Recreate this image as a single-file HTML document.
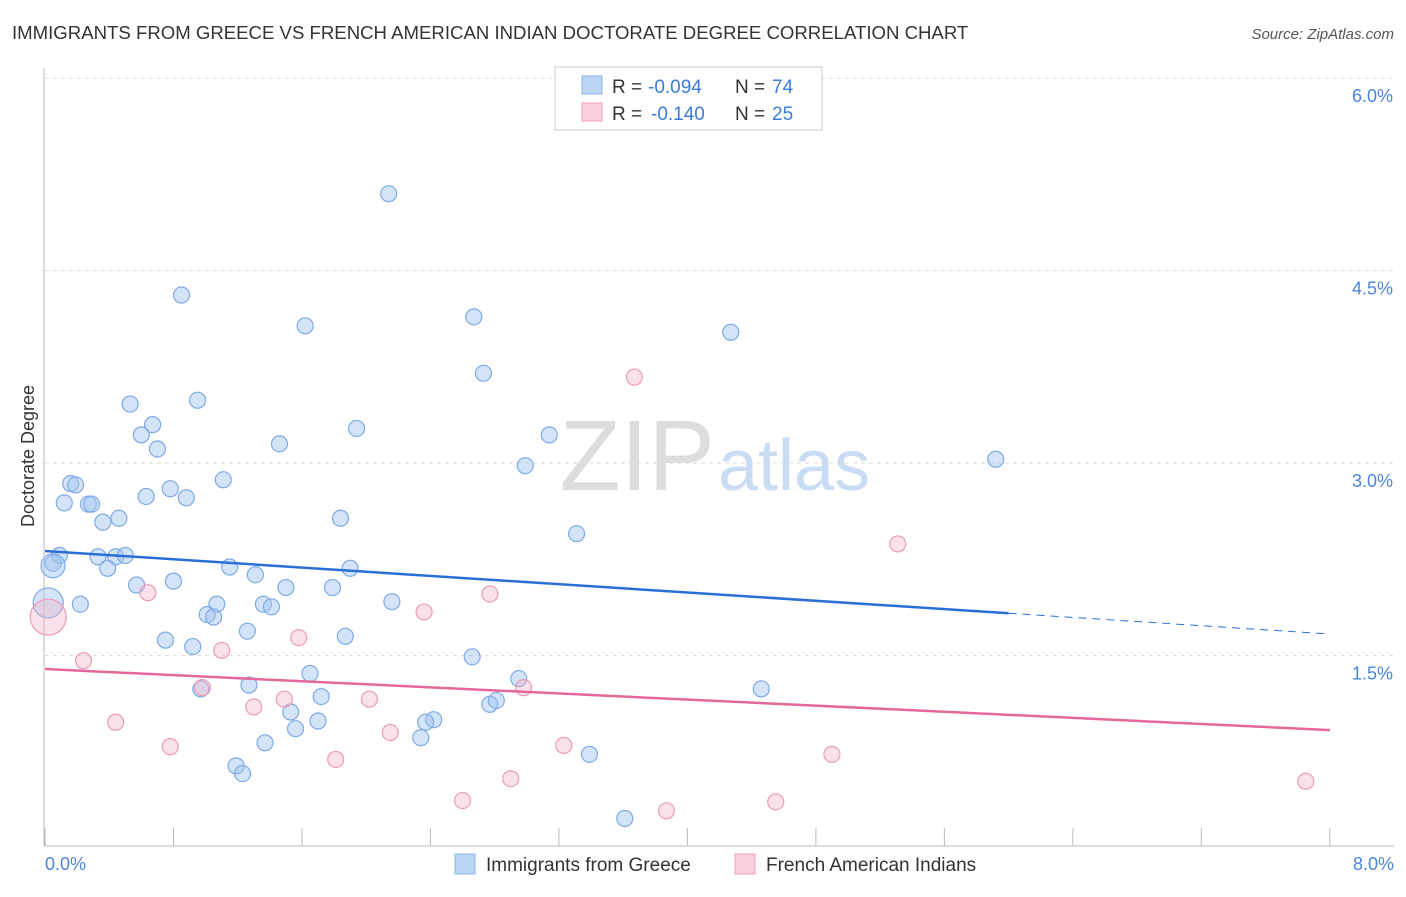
<!DOCTYPE html>
<html><head><meta charset="utf-8"><style>
body{margin:0;background:#fff;font-family:"Liberation Sans",sans-serif;}
svg text{font-family:"Liberation Sans",sans-serif;}
</style></head><body>
<svg width="1406" height="892" viewBox="0 0 1406 892">
<text x="12" y="39" font-size="18.6" fill="#333">IMMIGRANTS FROM GREECE VS FRENCH AMERICAN INDIAN DOCTORATE DEGREE CORRELATION CHART</text>
<text x="1394" y="39" font-size="15" fill="#555" font-style="italic" text-anchor="end">Source: ZipAtlas.com</text>
<g id="grid"></g>
<text x="715" y="490" font-size="100" fill="#ddd" text-anchor="end" font-family="Liberation Serif">ZIP</text>
<text x="718" y="490" font-size="72" fill="#c9dcf3">atlas</text>
<line x1="44" y1="68" x2="44" y2="846" stroke="#bbb"/>
<line x1="44" y1="846" x2="1394" y2="846" stroke="#bbb"/>
<text transform="translate(34,456) rotate(-90)" font-size="18" fill="#333" text-anchor="middle">Doctorate Degree</text>
<text x="45" y="870" font-size="18" fill="#4a86d8">0.0%</text>
<text x="1394" y="870" font-size="18" fill="#4a86d8" text-anchor="end">8.0%</text>
<g id="marks"></g>
<g>
<rect x="555" y="67" width="267" height="63" fill="#fff" stroke="#ccc"/>
<rect x="582" y="76" width="20" height="18" fill="#bcd5f5" stroke="#8ab4e8"/>
<rect x="582" y="103" width="20" height="18" fill="#fbd0dd" stroke="#eea0b8"/>
<text x="612" y="93" font-size="19" fill="#333">R =</text>
<text x="648" y="93" font-size="19" fill="#3b7ddd">-0.094</text>
<text x="735" y="93" font-size="19" fill="#333">N =</text>
<text x="772" y="93" font-size="19" fill="#3b7ddd">74</text>
<text x="612" y="120" font-size="19" fill="#333">R =</text>
<text x="651" y="120" font-size="19" fill="#3b7ddd">-0.140</text>
<text x="735" y="120" font-size="19" fill="#333">N =</text>
<text x="772" y="120" font-size="19" fill="#3b7ddd">25</text>
</g>
<g>
<rect x="455" y="854" width="20" height="20" fill="#bcd5f5" stroke="#8ab4e8"/>
<text x="486" y="871" font-size="19" fill="#333">Immigrants from Greece</text>
<rect x="735" y="854" width="20" height="20" fill="#fbd0dd" stroke="#eea0b8"/>
<text x="766" y="871" font-size="19" fill="#333">French American Indians</text>
</g>
</svg>
<script>
const yTicks=[1.5,3.0,4.5,6.0];
const xTickCount=10;
const blueX=[2.14,0.85,1.62,2.67,4.27,2.73,0.53,0.95,0.67,0.6,1.94,3.14,0.7,1.46,2.99,5.92,0.16,0.19,1.11,0.78,0.63,0.88,0.12,0.27,0.29,0.46,0.36,1.84,3.31,0.09,0.05,0.33,0.44,0.5,0.39,1.15,1.31,1.9,0.8,0.57,1.5,1.79,0.22,1.07,1.36,2.16,1.01,1.05,1.41,1.26,0.75,1.87,0.92,2.66,1.65,2.95,4.46,0.97,1.27,1.72,2.77,2.81,1.53,1.7,2.42,2.37,1.56,2.34,1.37,1.19,1.23,3.39,3.61,0.02,0.05];
const blueY=[5.1,4.31,4.07,4.14,4.02,3.7,3.46,3.49,3.3,3.22,3.27,3.22,3.11,3.15,2.98,3.03,2.84,2.83,2.87,2.8,2.74,2.73,2.69,2.68,2.68,2.57,2.54,2.57,2.45,2.28,2.22,2.27,2.27,2.28,2.18,2.19,2.13,2.18,2.08,2.05,2.03,2.03,1.9,1.9,1.9,1.92,1.82,1.8,1.88,1.69,1.62,1.65,1.57,1.49,1.36,1.32,1.24,1.24,1.27,1.18,1.12,1.15,1.06,0.99,1.0,0.98,0.93,0.86,0.82,0.64,0.58,0.73,0.23,1.91,2.2];
const blueR=[8,8,8,8,8,8,8,8,8,8,8,8,8,8,8,8,8,8,8,8,8,8,8,8,8,8,8,8,8,8,8,8,8,8,8,8,8,8,8,8,8,8,8,8,8,8,8,8,8,8,8,8,8,8,8,8,8,8,8,8,8,8,8,8,8,8,8,8,8,8,8,8,8,15,12];
const pinkX=[0.02,0.24,0.64,0.44,0.78,0.98,1.1,1.3,1.49,1.58,1.81,2.02,2.15,2.36,2.77,2.6,2.9,2.98,3.23,3.67,3.87,4.55,4.9,5.31,7.85];
const pinkY=[1.8,1.46,1.99,0.98,0.79,1.25,1.54,1.1,1.16,1.64,0.69,1.16,0.9,1.84,1.98,0.37,0.54,1.25,0.8,3.67,0.29,0.36,0.73,2.37,0.52];
const pinkR=[18,8,8,8,8,8,8,8,8,8,8,8,8,8,8,8,8,8,8,8,8,8,8,8,8];
const blueTrend=[2.315,1.668];
const pinkTrend=[1.395,0.919];
const blueSolidEnd=6.0;
const NS="http://www.w3.org/2000/svg";
const xs=v=>45+v*160.6, ys=v=>848-v*128.3;
function mk(t,a,p){const e=document.createElementNS(NS,t);for(const k in a)e.setAttribute(k,a[k]);p.appendChild(e);return e;}
const grid=document.getElementById('grid'),marks=document.getElementById('marks');
yTicks.forEach(t=>{
 const l=mk('line',{x1:45,x2:1394,y1:ys(t),y2:ys(t),stroke:'#ddd','stroke-dasharray':'4,4'},grid);
 
 
 const tx=mk('text',{x:1393,y:ys(t)+24,'font-size':18,fill:'#4a86d8','text-anchor':'end'},grid);
 tx.textContent=t.toFixed(1)+'%';
 
 
});
for(let i=0;i<=xTickCount;i++){
 const l=mk('line',{x1:xs(i*0.8),x2:xs(i*0.8),y1:828,y2:846,stroke:'#bbb'},grid);
 
 
}
function pts(X,Y,R,fill,stroke,name){X.forEach((x,i)=>{
 const c=mk('circle',{cx:xs(x),cy:ys(Y[i]),r:R[i],fill:fill,stroke:stroke,'stroke-width':1.2},marks);
 
 
});}
pts(blueX,blueY,blueR,'rgba(160,196,240,0.45)','#7eaae6','greece-point');
pts(pinkX,pinkY,pinkR,'rgba(245,180,200,0.4)','#eb9cb6','french-american-indian-point');
const bAt=x=>blueTrend[0]+(blueTrend[1]-blueTrend[0])*x/8;
let l=mk('line',{x1:xs(0),y1:ys(bAt(0)),x2:xs(blueSolidEnd),y2:ys(bAt(blueSolidEnd)),stroke:'#2a6fd6','stroke-width':2.5},marks);


l=mk('line',{x1:xs(blueSolidEnd),y1:ys(bAt(blueSolidEnd)),x2:xs(8),y2:ys(bAt(8)),stroke:'#2a6fd6','stroke-width':1,'stroke-dasharray':'8,6'},marks);


l=mk('line',{x1:xs(0),y1:ys(pinkTrend[0]),x2:xs(8),y2:ys(pinkTrend[1]),stroke:'#e4689a','stroke-width':2.5},marks);


</script>
</body></html>
